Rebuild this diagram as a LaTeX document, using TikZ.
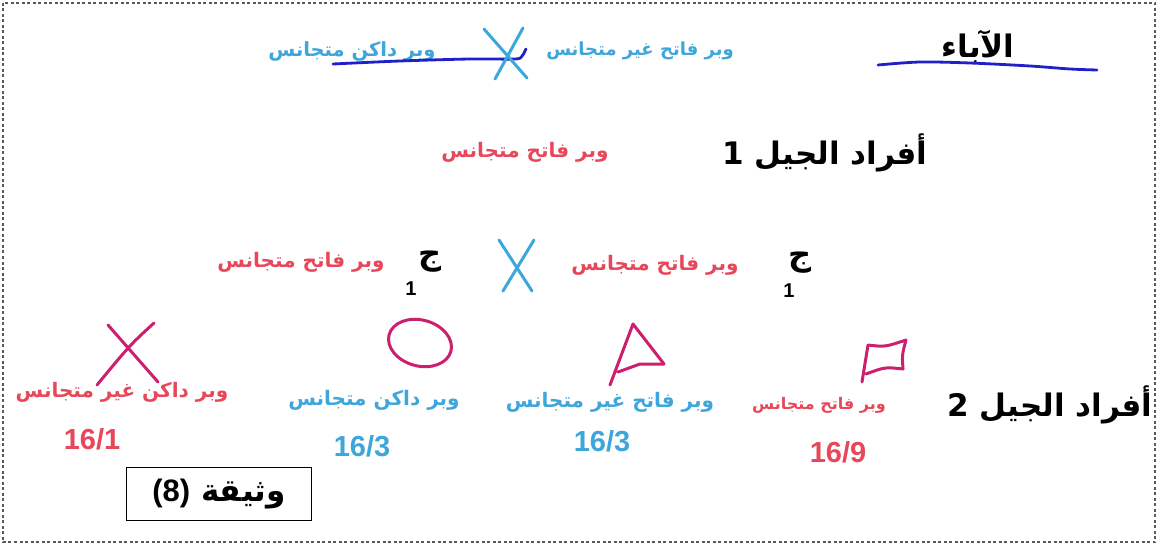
\documentclass[tikz,border=0pt]{standalone}
\usepackage{fontspec}
\setmainfont{DejaVu Sans}
\newfontfamily\arabicfont[Script=Arabic]{DejaVu Sans}
\newfontfamily\numfont{Liberation Sans}
\TeXXeTstate=1
\definecolor{lblred}{HTML}{E8475A}
\definecolor{lblcyan}{HTML}{3EA6DA}
\definecolor{penmag}{HTML}{CC1F6E}
\definecolor{penblue}{HTML}{2020C8}
\definecolor{pencyan}{HTML}{3AA8DA}
\tikzset{
  redlbl/.style={text=lblred, font=\arabicfont\bfseries\fontsize{#1}{#1}\selectfont, inner sep=0pt},
  redlbl/.default=20,
  cyanlbl/.style={text=lblcyan, font=\arabicfont\bfseries\fontsize{#1}{#1}\selectfont, inner sep=0pt},
  cyanlbl/.default=20,
  blacklbl/.style={text=black, font=\arabicfont\bfseries\fontsize{31}{34}\selectfont, inner sep=0pt},
  gsym/.style={text=black, font=\arabicfont\bfseries\fontsize{32}{34}\selectfont, inner sep=0pt},
  gsub/.style={text=black, font=\numfont\bfseries\fontsize{20}{22}\selectfont, inner sep=0pt},
  fracred/.style={text=lblred, font=\numfont\bfseries\fontsize{29}{31}\selectfont, inner sep=0pt},
  fraccyan/.style={text=lblcyan, font=\numfont\bfseries\fontsize{29}{31}\selectfont, inner sep=0pt},
  bluepen/.style={draw=penblue, line width=2.8pt, line cap=round, line join=round},
  cyanpen/.style={draw=pencyan, line width=3pt, line cap=round},
  magpen/.style={draw=penmag, line width=3pt, line cap=round, line join=round},
  docbox/.style={draw=black, line width=1.6pt, minimum width=185pt, minimum height=53pt, inner sep=0pt,
    font=\arabicfont\bfseries\fontsize{31}{34}\selectfont},
}
\begin{document}
\begin{tikzpicture}[x=1pt,y=-1pt]
\useasboundingbox (0,0) rectangle (1158,545);
\draw[gray!70!black, line width=1.2pt, dash pattern=on 3pt off 2.5pt] (3,3) rectangle (1155,542);

% parents row
\node[cyanlbl=19.5] (p1) at (352,51) {\beginR وبر داكن متجانس\endR};
\node[cyanlbl=18] (p2) at (640,51) {\beginR وبر فاتح غير متجانس\endR};
\node[blacklbl] (parents) at (978,47) {\beginR الآباء\endR};
\draw[bluepen] plot[smooth] coordinates {(333,64) (400,61) (470,59) (515,59) (522,56) (526,49)};
\draw[bluepen] plot[smooth] coordinates {(878,65) (920,62) (970,63) (1030,66) (1070,69) (1097,70)};
\coordinate (xa1) at (484,29); \coordinate (xa2) at (527,78);
\coordinate (xa3) at (523,28); \coordinate (xa4) at (495,79);
\draw[cyanpen] (xa1) -- (xa2);
\draw[cyanpen] (xa3) -- (xa4);

% F1 row
\node[redlbl] (f1l) at (525,152) {\beginR وبر فاتح متجانس\endR};
\node[blacklbl] (f1) at (825,153) {\beginR أفراد الجيل 1\endR};

% gametes row
\node[redlbl] (g1l) at (301,262) {\beginR وبر فاتح متجانس\endR};
\node[gsym] (g1) at (430,262) {\beginR ج\endR};
\node[gsub] (g1s) at (411,289) {1};
\coordinate (xb1) at (499,240); \coordinate (xb2) at (532,291);
\coordinate (xb3) at (534,240); \coordinate (xb4) at (503,291);
\draw[cyanpen] (xb1) -- (xb2);
\draw[cyanpen] (xb3) -- (xb4);
\node[redlbl] (g2l) at (655,265) {\beginR وبر فاتح متجانس\endR};
\node[gsym] (g2) at (800,263) {\beginR ج\endR};
\node[gsub] (g2s) at (789,291) {1};

% F2 row shapes
\coordinate (ma1) at (108,325); \coordinate (ma2) at (158,382);
\coordinate (ma3) at (154,323); \coordinate (ma4) at (97,385);
\draw[magpen] (ma1) -- (ma2);
\draw[magpen] (ma3) .. controls (130,345) .. (ma4);
\draw[magpen, rotate around={-15:(420,343)}] (420,343) ellipse [x radius=32pt, y radius=23pt];
\draw[magpen] (610,385) -- (633,324) -- (664,364) -- (640,364) -- (618,372);
\draw[magpen] (862,382) -- (868,345) .. controls (885,347) .. (906,340) .. controls (902,355) .. (903,369) .. controls (885,367) .. (866,374);

% F2 labels
\node[redlbl] (c1) at (122,392) {\beginR وبر داكن غير متجانس\endR};
\node[cyanlbl] (c2) at (374,400) {\beginR وبر داكن متجانس\endR};
\node[cyanlbl] (c3) at (610,402) {\beginR وبر فاتح غير متجانس\endR};
\node[redlbl=16] (c4) at (819,405) {\beginR وبر فاتح متجانس\endR};
\node[blacklbl] (f2) at (1050,405) {\beginR أفراد الجيل 2\endR};

\node[fracred] (r1) at (92,439) {16/1};
\node[fraccyan] (r2) at (362,446) {16/3};
\node[fraccyan] (r3) at (602,441) {16/3};
\node[fracred] (r4) at (838,452) {16/9};

\node[docbox] (doc) at (219,494) {\beginR وثيقة {\numfont\bfseries\beginL(8)\endL}\endR};
\end{tikzpicture}
\end{document}
